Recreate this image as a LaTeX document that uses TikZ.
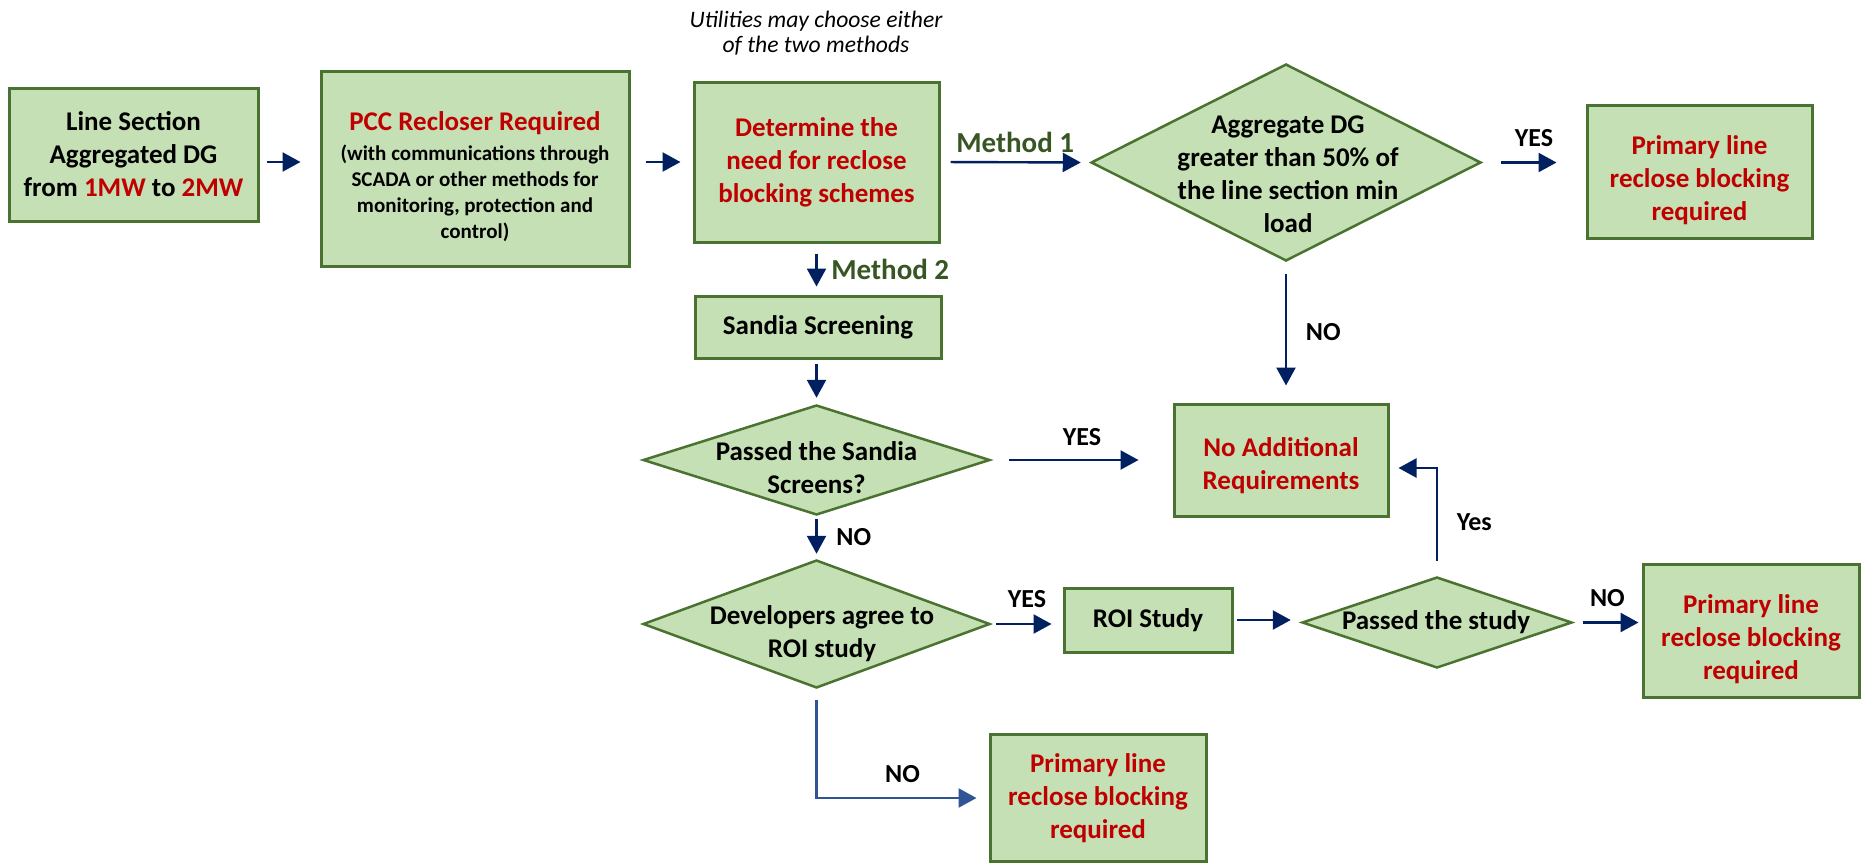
\documentclass[tikz,border=0pt]{standalone}
\usepackage{fontspec}
\setmainfont{Carlito}
\usepackage{tikz}
\usetikzlibrary{arrows.meta, positioning, shapes.geometric}

\definecolor{boxfill}{HTML}{C5E0B4}
\definecolor{boxline}{HTML}{4A7230}
\definecolor{redtxt}{HTML}{C00000}
\definecolor{navy}{HTML}{002060}
\definecolor{linkblue}{HTML}{2F5597}
\definecolor{methgreen}{HTML}{375623}

\newcommand{\pccsmall}{\fontsize{10.5}{12.85}\selectfont}
\newcommand{\dropline}[1]{\rule{0pt}{#1}}

\tikzset{
  box/.style={rectangle, draw=boxline, fill=boxfill, line width=1.5pt, inner sep=0pt, align=center, font=\fontsize{13.5}{16.5}\selectfont\bfseries},
  dec/.style={diamond, draw=boxline, fill=boxfill, line width=1.25pt, inner sep=0pt},
  dectext/.style={align=center, font=\fontsize{13.5}{16.5}\selectfont\bfseries},
  flow/.style={-{Triangle[length=9pt, width=9.5pt]}, draw=navy, line width=1.2pt},
  gap/.style 2 args={shorten <=#1, shorten >=#2},
  yn/.style={font=\fontsize{13}{15}\selectfont\bfseries, text=black},
  meth/.style={font=\fontsize{14.5}{16}\selectfont\bfseries, text=methgreen},
}

\begin{document}
\begin{tikzpicture}[x=0.5pt, y=-0.5pt]
    \useasboundingbox (0,0) rectangle (1861,863);

    % Boxes
    \node[box, minimum width=124.5pt, minimum height=66.5pt] (sect) at (133.5,154.5) {Line Section\\Aggregated DG\\from \textcolor{redtxt}{1MW} to \textcolor{redtxt}{2MW}};
    \node[box, minimum width=154pt, minimum height=97.5pt] (pcc) at (475,168.5) {\dropline{18pt}\textcolor{redtxt}{PCC Recloser Required}\\[-1.5pt]\pccsmall (with communications through\\[-3.5pt]\pccsmall SCADA or other methods for\\[-3.5pt]\pccsmall monitoring, protection and\\[-3.5pt]\pccsmall control)};
    \node[box, minimum width=122.5pt, minimum height=80pt, text=redtxt] (need) at (816.5,162) {Determine the\\need for reclose\\blocking schemes};
    \node[box, minimum width=112.5pt, minimum height=66.5pt, text=redtxt] (prim1) at (1699.5,171.5) {\dropline{18pt}Primary line\\reclose blocking\\required};
    \node[box, minimum width=123pt, minimum height=31pt] (sandia) at (818,327) {Sandia Screening};
    \node[box, minimum width=107pt, minimum height=56pt, text=redtxt] (noadd) at (1281,460) {\dropline{15.5pt}No Additional\\Requirements};
    \node[box, minimum width=84pt, minimum height=32pt] (roi) at (1148,620) {ROI Study};
    \node[box, minimum width=108pt, minimum height=66.5pt, text=redtxt] (prim2) at (1751,630.5) {\dropline{18pt}Primary line\\reclose blocking\\required};
    \node[box, minimum width=108pt, minimum height=63.5pt, text=redtxt] (prim3) at (1098,798) {Primary line\\reclose blocking\\required};

    % Decisions
    \node[dec, minimum width=195pt, minimum height=98.5pt] (agg) at (1286,162.5) {};
    \node[dectext] (aggtxt) at (1288,174) {Aggregate DG\\greater than 50\% of\\the line section min\\load};
    \node[dec, minimum width=173.5pt, minimum height=55pt] (sand) at (816.5,460) {};
    \node[dectext] (sandtxt) at (816.5,468) {Passed the Sandia\\Screens?};
    \node[dec, minimum width=173.5pt, minimum height=64pt] (dev) at (816.5,624) {};
    \node[dectext] (devtxt) at (822,634) {Developers agree to\\ROI study};
    \node[dec, minimum width=135pt, minimum height=45.5pt] (study) at (1437,622.5) {};
    \node[dectext] (studytxt) at (1436,622) {Passed the study};

    % Note
    \node[align=center, font=\fontsize{11.8}{12.5}\selectfont\itshape] (note) at (816,33) {Utilities may choose either\\of the two methods};

    % Connectors
    \draw[flow, gap={3.5pt}{9.5pt}] (sect.east |- need.west) -- (pcc.west |- need.west);
    \draw[flow, gap={7.5pt}{6pt}] (pcc.east |- need.west) -- (need.west);
    \draw[flow, gap={5pt}{4.5pt}] (need.east) -- (agg.west) node[meth, midway, above=1pt] (m1) {Method 1};
    \draw[flow, gap={9.5pt}{14.5pt}] (agg.east) -- (agg.east -| prim1.west) node[yn, midway, above=4pt] (y1) {YES};
    \draw[flow, gap={5pt}{4pt}] (need.south) -- (need.south |- sandia.north) node[meth, midway, right=3.5pt] (m2) {Method 2};
    \draw[flow, gap={2pt}{3pt}] (sandia.south -| sand.north) -- (sand.north);
    \draw[flow, gap={9pt}{17pt}] (sand.east) -- (noadd.west) node[yn, midway, above=3pt] (y2) {YES};
    \draw[flow, gap={6pt}{8.5pt}] (agg.south) -- (agg.south |- noadd.north) node[yn, midway, right=6pt] (n1) {NO};
    \draw[flow, gap={1.5pt}{2.5pt}] (sand.south) -- (dev.north) node[yn, midway, right=6pt] (n2) {NO};
    \draw[flow, gap={2.5pt}{5.5pt}] (dev.east) -- (dev.east -| roi.west) node[yn, midway, above=4pt] (y3) {YES};
    \draw[flow, gap={1.5pt}{5pt}] (roi.east) -- (roi.east -| study.west);
    \draw[flow, gap={5pt}{1.5pt}] (study.east) -- (study.east -| prim2.west) node[yn, midway, above=4pt] (n3) {NO};
    \draw[flow, gap={7.5pt}{4.5pt}] (study.north) |- ([yshift=-4pt]noadd.east) node[yn, pos=0.25, right=6pt] (y4) {Yes};
    \draw[flow, draw=linkblue, gap={5.5pt}{6pt}] (dev.south) |- (prim3.west) node[yn, pos=0.75, above=3.5pt] (n4) {NO};
\end{tikzpicture}
\end{document}
